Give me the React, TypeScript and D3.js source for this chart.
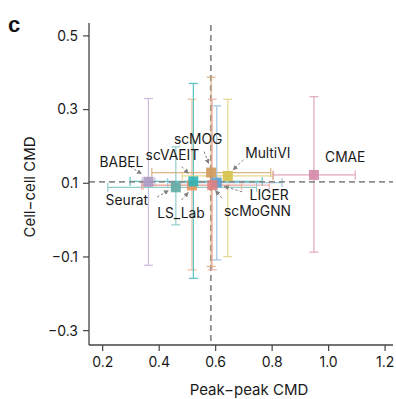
import React from "react";
import * as d3 from "d3";

// ---- data ----
const methods = ["BABEL", "Seurat", "LS_Lab", "scVAEIT", "scMOG", "MultiVI", "CMAE", "LIGER", "scMoGNN"];
const peakCMD = [0.362, 0.459, 0.516, 0.521, 0.584, 0.643, 0.948, 0.604, 0.588];
const cellCMD = [0.104, 0.089, 0.094, 0.105, 0.129, 0.12, 0.1225, 0.102, 0.095];
const cellLow = [-0.1225, -0.013, -0.135, -0.158, -0.126, -0.099, -0.087, -0.108, -0.135];
const cellHigh = [0.33, 0.199, 0.328, 0.371, 0.388, 0.328, 0.335, 0.31, 0.328];
const peakLow = [0.34, 0.218, 0.343, 0.297, 0.374, 0.482, 0.804, 0.43, 0.338];
const peakHigh = [0.385, 0.745, 0.692, 0.765, 0.795, 0.802, 1.094, 0.835, 0.79];
const refPeak = 0.583;
const refCell = 0.104;
const xTicks = [0.2, 0.4, 0.6, 0.8, 1.0, 1.2];
const yTicks = [-0.3, -0.1, 0.1, 0.3, 0.5];

// ---- styles / layout (kept separate from data) ----
const pointColors = ["#ab98c4", "#62aaa4", "#e8955f", "#2fb4b6", "#cf9a5c", "#d6c24a", "#d488a8", "#5d9fcc", "#df8080"];
const barColors = ["#c3b0d8", "#7fc6c0", "#f0b48c", "#3cb8b8", "#d8a870", "#e4d27c", "#dc97b4", "#8bbfe0", "#eea8a8"];
// label centre offsets and arrow start/end offsets (pixels relative to the point)
const labelOff: [number, number][] = [[-27, -20], [-49, 12.7], [-11, 27.8], [-21, -26.5], [-13, -33.7], [40, -22.7], [31.3, -18.3], [52.3, 12.3], [45.2, 25.7]];
const arrowStart: ([number, number] | null)[] = [[-18, -15], [-18.7, 9.7], [-10.3, 14.5], [-11.6, -14.8], [-7, -21], [15.6, -16], null, [25.3, 9.3], [9.7, 13]];
const arrowEnd: ([number, number] | null)[] = [[-7, -8], [-7.4, 3.2], [-3.7, 7], [-5, -8], [-2.5, -9], [5.3, -6], null, [7.3, 3.8], [3.2, 5.5]];

const W = 396, H = 399;
const FONT = "Inter, 'Noto Sans', sans-serif";

export default function App() {
  const x = d3.scaleLinear().domain([0.1515, 1.228]).range([89, 393]);
  const y = d3.scaleLinear().domain([-0.339, 0.535]).range([345, 23]);
  const cap = 4.5;
  const sq = 10;

  const fmt = (v: number) => {
    const s = d3.format(".1f")(Math.abs(v));
    return v < 0 ? "\u2212" + s : s;
  };

  return (
    <svg width={W} height={H} style={{ position: "absolute", left: 0, top: 0, background: "#fff" }} fontFamily={FONT}>
      <defs>
        <marker id="ah" viewBox="0 0 10 10" refX="9" refY="5" markerWidth="5" markerHeight="5" orient="auto">
          <path d="M0,0 L10,5 L0,10 z" fill="#808080" />
        </marker>
      </defs>
      <text x={8} y={32} fontSize={22} fontWeight={900} fill="#111" fontFamily="Arial, 'Liberation Sans', sans-serif">c</text>

      {/* reference lines */}
      <line x1={x(refPeak)} x2={x(refPeak)} y1={25} y2={345} stroke="#8c8c8c" strokeWidth={1.8} strokeDasharray="6,4" />

      {/* error bars */}
      {methods.map((m, i) => {
        const cx = x(peakCMD[i]);
        const cy = y(cellCMD[i]);
        const c = barColors[i];
        return (
          <g key={"eb" + m} stroke={c} strokeWidth={1.2} opacity={0.85}>
            <line x1={cx} x2={cx} y1={y(cellLow[i])} y2={y(cellHigh[i])} />
            <line x1={cx - cap} x2={cx + cap} y1={y(cellLow[i])} y2={y(cellLow[i])} />
            <line x1={cx - cap} x2={cx + cap} y1={y(cellHigh[i])} y2={y(cellHigh[i])} />
            <line x1={x(peakLow[i])} x2={x(peakHigh[i])} y1={cy} y2={cy} />
            <line x1={x(peakLow[i])} x2={x(peakLow[i])} y1={cy - cap} y2={cy + cap} />
            <line x1={x(peakHigh[i])} x2={x(peakHigh[i])} y1={cy - cap} y2={cy + cap} />
          </g>
        );
      })}

      <line x1={89} x2={393} y1={y(refCell)} y2={y(refCell)} stroke="#8c8c8c" strokeWidth={1.8} strokeDasharray="6,4" />

      {/* points */}
      {methods.map((m, i) => (
        <rect key={"pt" + m} x={x(peakCMD[i]) - sq / 2} y={y(cellCMD[i]) - sq / 2} width={sq} height={sq} fill={pointColors[i]} opacity={0.9} />
      ))}

      {/* arrows & labels */}
      {methods.map((m, i) => {
        const cx = x(peakCMD[i]);
        const cy = y(cellCMD[i]);
        const s = arrowStart[i];
        const e = arrowEnd[i];
        return (
          <g key={"lb" + m}>
            {s && e && (
              <line x1={cx + s[0]} y1={cy + s[1]} x2={cx + e[0]} y2={cy + e[1]} stroke="#808080" strokeWidth={1} strokeDasharray="2.5,2" markerEnd="url(#ah)" />
            )}
            <text x={cx + labelOff[i][0]} y={cy + labelOff[i][1]} dy="0.35em" textAnchor="middle" fontSize={13.8} fill="#1a1a1a">{m}</text>
          </g>
        );
      })}

      {/* axes */}
      <line x1={89} x2={89} y1={23} y2={345} stroke="#444" strokeWidth={1.3} />
      <line x1={89} x2={393} y1={345} y2={345} stroke="#444" strokeWidth={1.3} />
      {yTicks.map((t) => (
        <g key={"yt" + t}>
          <line x1={83} x2={89} y1={y(t)} y2={y(t)} stroke="#444" strokeWidth={1.2} />
          <text x={78} y={y(t)} dy="0.35em" textAnchor="end" fontSize={14} fill="#1a1a1a">{fmt(t)}</text>
        </g>
      ))}
      {xTicks.map((t) => (
        <g key={"xt" + t}>
          <line x1={x(t)} x2={x(t)} y1={345} y2={351} stroke="#444" strokeWidth={1.2} />
          <text x={x(t)} y={367} textAnchor="middle" fontSize={14} fill="#1a1a1a">{fmt(t)}</text>
        </g>
      ))}
      <text x={249} y={395} textAnchor="middle" fontSize={15} fill="#1a1a1a">{"Peak\u2212peak CMD"}</text>
      <text transform="translate(35,187) rotate(-90)" textAnchor="middle" fontSize={15} fill="#1a1a1a">{"Cell\u2212cell CMD"}</text>
    </svg>
  );
}
